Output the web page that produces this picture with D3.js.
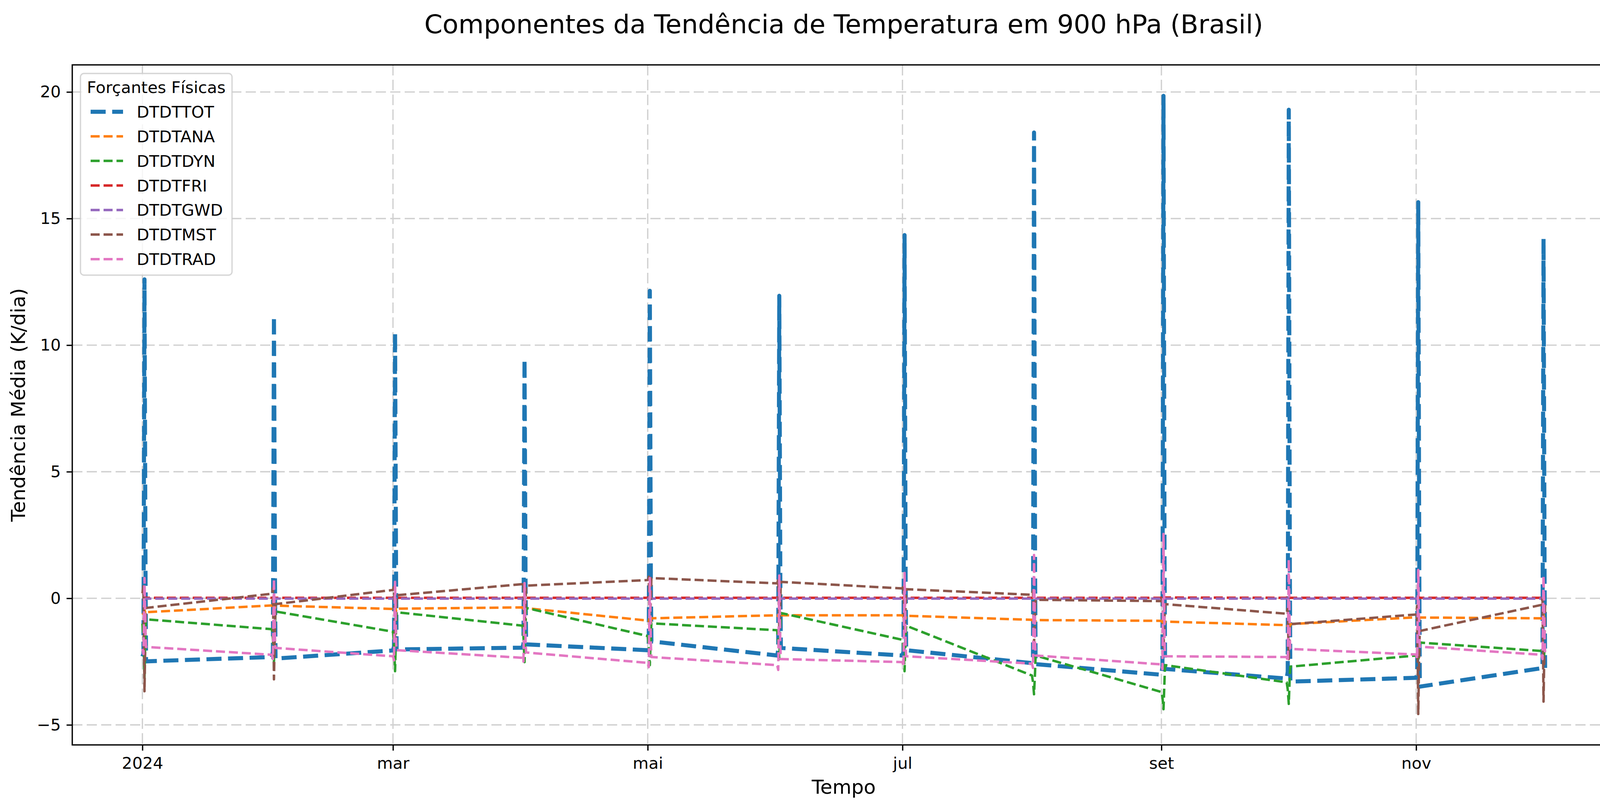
<!DOCTYPE html>
<html>
<head>
<meta charset="utf-8">
<script src="https://cdn.jsdelivr.net/npm/d3@7"></script>
<style>
  html, body { margin: 0; padding: 0; background: #fff; overflow: hidden; }
  svg { display: block; }
  text { font-family: "DejaVu Sans", sans-serif; fill: #000; }
</style>
</head>
<body>
<svg id="chart"></svg>
<script>
// one cluster of time steps on the first day of every month (2024)
const monthStarts = [0, 1, 2, 3, 4, 5, 6, 7, 8, 9, 10, 11];
const stepHours = [0, 6, 12, 18, 21];

const seriesNames = ["DTDTTOT", "DTDTANA", "DTDTDYN", "DTDTFRI", "DTDTGWD", "DTDTMST", "DTDTRAD"];

// values per month, one per time step (K/dia)
const dtdttot = [
  [-2.30, -2.20, 12.60, 0.80, -2.49],
  [-2.32, -2.10, 11.15, 0.60, -2.38],
  [-2.06, -1.90, 10.50, 0.50, -2.02],
  [-1.95, -1.80, 9.45, 0.40, -1.82],
  [-2.05, -1.85, 12.15, 0.60, -1.70],
  [-2.26, -2.05, 11.95, 0.70, -1.96],
  [-2.26, -2.10, 14.35, 0.90, -2.05],
  [-2.56, -2.30, 18.40, 1.20, -2.60],
  [-3.02, -2.70, 19.85, 1.50, -2.79],
  [-3.17, -2.90, 19.30, 1.20, -3.29],
  [-3.14, -2.95, 15.65, 1.00, -3.49],
  [-2.76, -2.60, 14.20, 0.90, -2.75]
];
const dtdtana = [
  [-0.65, -0.60, -0.45, -0.60, -0.55],
  [-0.28, -0.35, -0.20, -0.40, -0.29],
  [-0.42, -0.48, -0.30, -0.50, -0.41],
  [-0.36, -0.42, -0.25, -0.45, -0.39],
  [-0.88, -0.90, -0.70, -0.95, -0.79],
  [-0.67, -0.72, -0.55, -0.75, -0.67],
  [-0.67, -0.75, -0.55, -0.80, -0.69],
  [-0.85, -0.90, -0.70, -0.95, -0.86],
  [-0.89, -0.95, -0.75, -1.00, -0.92],
  [-1.06, -1.10, -0.90, -1.15, -1.02],
  [-0.75, -0.80, -0.60, -0.85, -0.76],
  [-0.79, -0.85, -0.65, -0.90, -0.80]
];
const dtdtdyn = [
  [-1.00, -1.50, -3.15, -1.20, -0.83],
  [-1.22, -1.60, -2.50, -1.10, -0.52],
  [-1.32, -1.80, -2.88, -1.20, -0.55],
  [-1.08, -1.50, -2.52, -1.00, -0.38],
  [-1.49, -1.90, -2.64, -1.40, -0.99],
  [-1.26, -1.70, -2.40, -1.10, -0.58],
  [-1.64, -2.00, -2.88, -1.50, -1.08],
  [-3.05, -3.30, -3.79, -2.90, -2.26],
  [-3.70, -3.90, -4.38, -3.20, -2.64],
  [-3.32, -3.60, -4.17, -3.00, -2.70],
  [-2.26, -2.35, -2.50, -2.10, -1.75],
  [-2.08, -2.25, -2.50, -2.00, -2.10]
];
const dtdtfri = [
  [0.02, 0.03, 0.08, 0.02, 0.02],
  [0.02, 0.03, 0.07, 0.02, 0.02],
  [0.02, 0.03, 0.06, 0.02, 0.02],
  [0.02, 0.03, 0.06, 0.02, 0.02],
  [0.02, 0.03, 0.07, 0.02, 0.02],
  [0.02, 0.03, 0.08, 0.02, 0.02],
  [0.02, 0.03, 0.09, 0.02, 0.02],
  [0.02, 0.03, 0.12, 0.02, 0.02],
  [0.02, 0.04, 0.15, 0.03, 0.03],
  [0.02, 0.03, 0.12, 0.02, 0.02],
  [0.02, 0.03, 0.10, 0.02, 0.02],
  [0.02, 0.03, 0.09, 0.02, 0.02]
];
const dtdtgwd = [
  [-0.01, -0.01, 0.00, -0.01, -0.01],
  [-0.01, -0.01, 0.00, -0.01, -0.01],
  [-0.01, -0.01, 0.00, -0.01, -0.01],
  [-0.01, -0.01, 0.00, -0.01, -0.01],
  [-0.01, -0.01, 0.00, -0.01, -0.01],
  [-0.01, -0.01, 0.00, -0.01, -0.01],
  [-0.01, -0.01, 0.00, -0.01, -0.01],
  [-0.01, -0.01, 0.00, -0.01, -0.01],
  [-0.01, -0.01, 0.00, -0.01, -0.01],
  [-0.01, -0.01, 0.00, -0.01, -0.01],
  [-0.01, -0.01, 0.00, -0.01, -0.01],
  [-0.01, -0.01, 0.00, -0.01, -0.01]
];
const dtdtmst = [
  [0.20, 0.48, -3.67, -1.00, -0.38],
  [0.18, 0.40, -3.20, -1.00, -0.23],
  [0.33, 0.45, -1.60, -0.50, 0.12],
  [0.56, 0.65, -1.20, -0.20, 0.50],
  [0.72, 0.85, -1.00, 0.00, 0.80],
  [0.59, 0.75, -1.20, -0.10, 0.65],
  [0.39, 0.55, -1.40, -0.30, 0.36],
  [0.14, 0.30, -1.80, -0.50, -0.06],
  [-0.11, 0.10, -2.00, -0.70, -0.23],
  [-0.61, -0.40, -2.40, -1.20, -1.02],
  [-0.64, -0.30, -4.57, -2.00, -1.29],
  [-0.26, 0.00, -4.08, -1.50, -0.25]
];
const dtdtrad = [
  [-2.00, -2.20, 0.80, -1.50, -1.92],
  [-2.23, -2.40, 0.77, -1.60, -1.96],
  [-2.29, -2.45, 0.65, -1.70, -2.05],
  [-2.35, -2.50, 0.60, -1.70, -2.14],
  [-2.55, -2.72, 0.80, -1.80, -2.32],
  [-2.64, -2.83, 0.90, -1.90, -2.40],
  [-2.52, -2.70, 1.00, -1.80, -2.29],
  [-2.58, -2.75, 1.71, -1.80, -2.26],
  [-2.61, -2.80, 2.54, -1.70, -2.29],
  [-2.32, -2.50, 1.54, -1.60, -2.00],
  [-2.22, -2.40, 1.12, -1.50, -1.91],
  [-2.23, -2.40, 0.89, -1.50, -2.20]
];

const yTicks = [-5, 0, 5, 10, 15, 20];
const yTickLabels = ["−5", "0", "5", "10", "15", "20"];
const xTickMonths = [0, 2, 4, 6, 8, 10];
const xTickLabels = ["2024", "mar", "mai", "jul", "set", "nov"];

const W = 4167, H = 2070;
const PT = 300 / 72;
const plotL = 185, plotR = 4135, plotT = 166, plotB = 1906;

const colors = ["#1f77b4", "#ff7f0e", "#2ca02c", "#d62728", "#9467bd", "#8c564b", "#e377c2"];
const widths = [2.5, 1.5, 1.5, 1.5, 1.5, 1.5, 1.5];

const allValues = [dtdttot, dtdtana, dtdtdyn, dtdtfri, dtdtgwd, dtdtmst, dtdtrad];

const series = seriesNames.map((name, i) => {
  const pts = [];
  allValues[i].forEach((vals, m) => {
    vals.forEach((v, k) => {
      pts.push({ t: new Date(Date.UTC(2024, monthStarts[m], 1, stepHours[k])), v: v });
    });
  });
  return { name, pts, color: colors[i], lw: widths[i] * PT };
});

const allPts = series.flatMap(s => s.pts);
const tExt = d3.extent(allPts, d => d.t.getTime());
const vExt = d3.extent(allPts, d => d.v);
const tPad = (tExt[1] - tExt[0]) * 0.05;
const vPad = (vExt[1] - vExt[0]) * 0.05;

const x = d3.scaleUtc()
  .domain([new Date(tExt[0] - tPad), new Date(tExt[1] + tPad)])
  .range([plotL, plotR]);
const y = d3.scaleLinear()
  .domain([vExt[0] - vPad, vExt[1] + vPad])
  .range([plotB, plotT]);

const svg = d3.select("#chart").attr("width", W).attr("height", H);
svg.append("rect").attr("width", W).attr("height", H).attr("fill", "#fff");

svg.append("defs").append("clipPath").attr("id", "plotclip")
  .append("rect").attr("x", plotL).attr("y", plotT)
  .attr("width", plotR - plotL).attr("height", plotB - plotT);

// grid
const xTickDates = xTickMonths.map(m => new Date(Date.UTC(2024, m, 1)));
const grid = svg.append("g");
grid.selectAll("line.gx").data(xTickDates).join("line")
  .attr("class", "gx")
  .attr("x1", d => x(d)).attr("x2", d => x(d))
  .attr("y1", plotT).attr("y2", plotB)
  .attr("stroke", "#d0d0d0").attr("stroke-width", 0.8 * PT)
  .attr("stroke-dasharray", "27 11");
grid.selectAll("line.gy").data(yTicks).join("line")
  .attr("class", "gy")
  .attr("x1", plotL).attr("x2", plotR)
  .attr("y1", d => y(d)).attr("y2", d => y(d))
  .attr("stroke", "#d0d0d0").attr("stroke-width", 0.8 * PT)
  .attr("stroke-dasharray", "26 11");

// series lines
const line = d3.line().x(d => x(d.t)).y(d => y(d.v));
const dashFor = s => `${3.7 * s.lw} ${1.6 * s.lw}`;
svg.append("g").attr("clip-path", "url(#plotclip)")
  .selectAll("path").data(series).join("path")
  .attr("d", d => line(d.pts))
  .attr("fill", "none")
  .attr("stroke", d => d.color)
  .attr("stroke-width", d => d.lw)
  .attr("stroke-dasharray", d => dashFor(d))
  .attr("stroke-linejoin", "round")
  .attr("stroke-linecap", "butt");

// axes
const tickLen = 3.5 * PT;
const xAxis = d3.axisBottom(x).tickValues(xTickDates)
  .tickFormat((d, i) => xTickLabels[i])
  .tickSize(tickLen).tickSizeOuter(0).tickPadding(3.5 * PT + 2);
const yAxis = d3.axisLeft(y).tickValues(yTicks)
  .tickFormat((d, i) => yTickLabels[i])
  .tickSize(tickLen).tickSizeOuter(0).tickPadding(3.5 * PT);

const gx = svg.append("g").attr("transform", `translate(0,${plotB})`).call(xAxis);
const gy = svg.append("g").attr("transform", `translate(${plotL},0)`).call(yAxis);
[gx, gy].forEach(g => {
  g.select(".domain").remove();
  g.selectAll(".tick line").attr("stroke", "#000").attr("stroke-width", 0.8 * PT);
  g.selectAll(".tick text").attr("font-size", 10 * PT).attr("font-family", "DejaVu Sans").attr("fill", "#000");
});

// spines
svg.append("rect")
  .attr("x", plotL).attr("y", plotT)
  .attr("width", plotR - plotL).attr("height", plotB - plotT)
  .attr("fill", "none").attr("stroke", "#000").attr("stroke-width", 0.8 * PT);

// labels
svg.append("text")
  .attr("x", (plotL + plotR) / 2).attr("y", 85)
  .attr("text-anchor", "middle").attr("font-size", 16 * PT)
  .text("Componentes da Tendência de Temperatura em 900 hPa (Brasil)");
svg.append("text")
  .attr("x", (plotL + plotR) / 2).attr("y", 2031)
  .attr("text-anchor", "middle").attr("font-size", 12 * PT)
  .text("Tempo");
svg.append("text")
  .attr("transform", `translate(64,${(plotT + plotB) / 2}) rotate(-90)`)
  .attr("text-anchor", "middle").attr("font-size", 12 * PT)
  .text("Tendência Média (K/dia)");

// legend
const lg = svg.append("g");
const lgX = 206, lgY = 188, lgW = 388, lgH = 516;
lg.append("rect")
  .attr("x", lgX).attr("y", lgY).attr("width", lgW).attr("height", lgH)
  .attr("rx", 9).attr("ry", 9)
  .attr("fill", "#fff").attr("fill-opacity", 0.8)
  .attr("stroke", "#cccccc").attr("stroke-opacity", 0.8)
  .attr("stroke-width", 0.8 * PT);
lg.append("text")
  .attr("x", lgX + lgW / 2).attr("y", 238)
  .attr("text-anchor", "middle").attr("font-size", 10 * PT)
  .text("Forçantes Físicas");
const rowY = d3.scaleLinear().domain([0, seriesNames.length - 1]).range([286, 663]);
const rows = lg.selectAll("g.row").data(series).join("g")
  .attr("class", "row")
  .attr("transform", (d, i) => `translate(0,${rowY(i)})`);
rows.append("line")
  .attr("x1", 232).attr("x2", 315).attr("y1", 0).attr("y2", 0)
  .attr("stroke", d => d.color).attr("stroke-width", d => d.lw)
  .attr("stroke-dasharray", d => dashFor(d));
rows.append("text")
  .attr("x", 350).attr("y", 15)
  .attr("font-size", 10 * PT)
  .text(d => d.name);
</script>
</body>
</html>
